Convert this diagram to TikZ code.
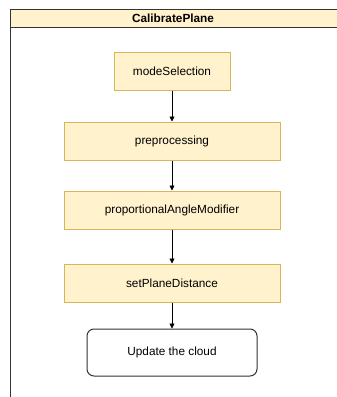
\documentclass[tikz,border=0pt]{standalone}
\usepackage{fontspec}
\setmainfont{Liberation Sans}
\usetikzlibrary{arrows.meta}
\definecolor{boxfill}{HTML}{FFF2CC}
\definecolor{boxline}{HTML}{D6B656}
\definecolor{frameline}{HTML}{333333}
\begin{document}
\begin{tikzpicture}[x=1pt,y=-1pt,
  stepbox/.style={draw=boxline,fill=boxfill,line width=1pt,minimum height=38pt,inner sep=0pt,font=\fontsize{11.8}{14}\selectfont},
  endbox/.style={draw=frameline,fill=white,rounded corners=7pt,line width=1pt,minimum width=170pt,minimum height=47pt,inner sep=0pt,font=\fontsize{11.8}{14}\selectfont},
  conn/.style={-{Triangle[length=5pt,width=5pt]},line width=0.8pt,black}]
\useasboundingbox (0,0) rectangle (337,397);
\begin{scope}
\clip (0,0) rectangle (337,397);
\fill[boxfill] (10,9) rectangle (345,27);
\draw[frameline,line width=1pt] (10,410) -- (10,9) -- (345,9);
\draw[frameline,line width=1pt] (10,27) -- (345,27);
\end{scope}
\node[font=\fontsize{11.8}{14}\selectfont\bfseries] (title) at (173,18) {CalibratePlane};
\node[stepbox,minimum width=116pt] (ms) at (172,71) {modeSelection};
\node[stepbox,minimum width=216pt] (pp) at (172,141) {preprocessing};
\node[stepbox,minimum width=216pt] (pam) at (172,210) {proportionalAngleModifier};
\node[stepbox,minimum width=216pt] (spd) at (172,283) {setPlaneDistance};
\node[endbox] (uc) at (172,352.5) {Update the cloud};
\draw[conn] (ms) -- (pp);
\draw[conn] (pp) -- (pam);
\draw[conn] (pam) -- (spd);
\draw[conn] (spd) -- (uc);
\end{tikzpicture}
\end{document}
